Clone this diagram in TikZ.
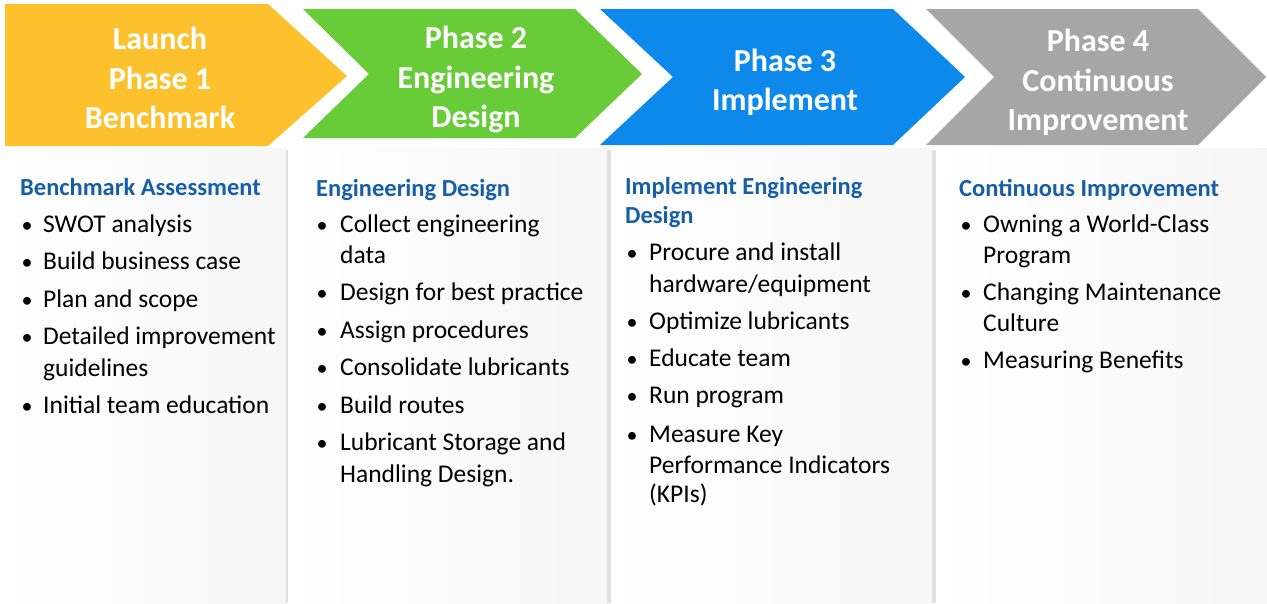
\documentclass[tikz,border=0pt]{standalone}
\usepackage{fontspec}
\setmainfont{Carlito}
\definecolor{cyel}{RGB}{252,193,45}
\definecolor{cgrn}{RGB}{104,203,56}
\definecolor{cblu}{RGB}{12,137,235}
\definecolor{cgry}{RGB}{166,166,166}
\definecolor{chead}{RGB}{22,94,166}
\tikzset{
 hdr/.style={font=\fontsize{32}{39.5}\selectfont\bfseries, text=white, anchor=base, inner sep=0pt},
 ttl/.style={font=\fontsize{24.5}{29.5}\selectfont\bfseries, text=chead, anchor=base west, inner sep=0pt},
 itm/.style={font=\fontsize{25.5}{31}\selectfont, text=black, anchor=base west, inner sep=0pt},
 bdot/.style={font=\fontsize{22}{31}\selectfont, text=black, anchor=base, inner sep=0pt},
 card/.style={left color=white, right color=black!3.5, draw=none},
 cardedge/.style={draw=black!12, line width=1.5pt}
}
\begin{document}
\begin{tikzpicture}[x=1pt,y=-1pt]
\useasboundingbox (0,0) rectangle (1267,603);
\fill[white] (0,0) rectangle (1267,603);
% cards
\shade[card] (0,148) rectangle (287,603);
\shade[card] (287,148) rectangle (608,603);
\shade[card] (609,148) rectangle (933,603);
\shade[card] (933,148) rectangle (1267,603);
\draw[cardedge] (287,150) -- (287,603);
\draw[cardedge] (608,150) -- (608,603);
\draw[cardedge] (610,150) -- (610,603);
\draw[cardedge] (933,150) -- (933,603);
\draw[cardedge] (935,150) -- (935,603);
% chevrons
\fill[cyel] (5,4) -- (268,4) -- (347,76) -- (268,146) -- (5,146) -- cycle;
\fill[cgrn] (303,9) -- (575,9) -- (642,74) -- (575,138) -- (303,138) -- (369,74) -- cycle;
\fill[cblu] (600,9) -- (893,9) -- (965,77) -- (893,145) -- (600,145) -- (673,77) -- cycle;
\fill[cgry] (926,9) -- (1198,9) -- (1266,77) -- (1198,145) -- (926,145) -- (994,77) -- cycle;
% header texts
\node[hdr] (h1a) at (160,49) {Launch};
\node[hdr] (h1b) at (160,89) {Phase 1};
\node[hdr] (h1c) at (160,128) {Benchmark};
\node[hdr] (h2a) at (476,48) {Phase 2};
\node[hdr] (h2b) at (476,88) {Engineering};
\node[hdr] (h2c) at (476,127) {Design};
\node[hdr] (h3a) at (785,71) {Phase 3};
\node[hdr] (h3b) at (785,110) {Implement};
\node[hdr] (h4a) at (1098,51) {Phase 4};
\node[hdr] (h4b) at (1098,91) {Continuous};
\node[hdr] (h4c) at (1098,130) {Improvement};
% panel 1
\node[ttl] (t1) at (20,195) {Benchmark Assessment};
\node[bdot] (d11) at (27,232) {•}; \node[itm] (i11) at (43,232) {SWOT analysis};
\node[bdot] (d12) at (27,269) {•}; \node[itm] (i12) at (43,269) {Build business case};
\node[bdot] (d13) at (27,307) {•}; \node[itm] (i13) at (43,307) {Plan and scope};
\node[bdot] (d14) at (27,344) {•}; \node[itm] (i14) at (43,344) {Detailed improvement};
\node[itm] (i14b) at (43,376) {guidelines};
\node[bdot] (d15) at (27,413) {•}; \node[itm] (i15) at (43,413) {Initial team education};
% panel 2
\node[ttl] (t2) at (316,196) {Engineering Design};
\node[bdot] (d21) at (322,232) {•}; \node[itm] (i21) at (340,232) {Collect engineering};
\node[itm] (i21b) at (340,263) {data};
\node[bdot] (d22) at (322,300) {•}; \node[itm] (i22) at (340,300) {Design for best practice};
\node[bdot] (d23) at (322,338) {•}; \node[itm] (i23) at (340,338) {Assign procedures};
\node[bdot] (d24) at (322,375) {•}; \node[itm] (i24) at (340,375) {Consolidate lubricants};
\node[bdot] (d25) at (322,413) {•}; \node[itm] (i25) at (340,413) {Build routes};
\node[bdot] (d26) at (322,450) {•}; \node[itm] (i26) at (340,450) {Lubricant Storage and};
\node[itm] (i26b) at (340,482) {Handling Design.};
% panel 3
\node[ttl] (t3) at (625,194) {Implement Engineering};
\node[ttl] (t3b) at (625,223) {Design};
\node[bdot] (d31) at (632,260) {•}; \node[itm] (i31) at (649,260) {Procure and install};
\node[itm] (i31b) at (649,292) {hardware/equipment};
\node[bdot] (d32) at (632,329) {•}; \node[itm] (i32) at (649,329) {Optimize lubricants};
\node[bdot] (d33) at (632,366) {•}; \node[itm] (i33) at (649,366) {Educate team};
\node[bdot] (d34) at (632,403) {•}; \node[itm] (i34) at (649,403) {Run program};
\node[bdot] (d35) at (632,442) {•}; \node[itm] (i35) at (649,442) {Measure Key};
\node[itm] (i35b) at (649,473) {Performance Indicators};
\node[itm] (i35c) at (649,502) {(KPIs)};
% panel 4
\node[ttl] (t4) at (959,196) {Continuous Improvement};
\node[bdot] (d41) at (966,232) {•}; \node[itm] (i41) at (983,232) {Owning a World-Class};
\node[itm] (i41b) at (983,263) {Program};
\node[bdot] (d42) at (966,300) {•}; \node[itm] (i42) at (983,300) {Changing Maintenance};
\node[itm] (i42b) at (983,331) {Culture};
\node[bdot] (d43) at (966,368) {•}; \node[itm] (i43) at (983,368) {Measuring Benefits};
\end{tikzpicture}
\end{document}
